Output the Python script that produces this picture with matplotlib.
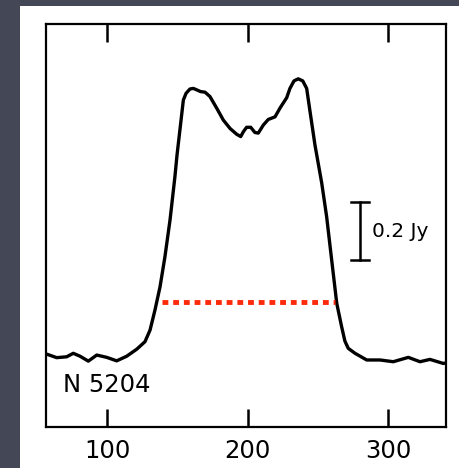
import matplotlib
matplotlib.use('Agg')
import matplotlib.pyplot as plt
import matplotlib.patches as patches

# profil HI galaktyki NGC 5204
velocity = [57, 64.0, 71.1, 75.8, 80.6, 86.5, 92.5, 99.6, 106.7, 113.8, 120.9,
            126.8, 130.4, 133.9, 137.5, 141.0, 144.6, 148.1, 149.6, 151.7, 154.1,
            156.0, 158.8, 161.2, 163.6, 166.4, 169.5, 173.0, 177.8, 182.5, 187.3,
            192.0, 194.9, 196.8, 199.1, 202.0, 205.0, 207.4, 211.0, 214.5, 219.3,
            222.8, 227.6, 229.9, 232.8, 235.8, 239.0, 241.8, 244.2, 247.7, 252.5,
            256.0, 259.6, 263.2, 266.7, 269.0, 271.4, 276.2, 284.5, 294.0, 303.4,
            314.1, 322.4, 329.5, 339.0, 341]
flux = [0.010, -0.002, 0.001, 0.013, 0.003, -0.014, 0.007, -0.001, -0.013, 0.003,
        0.027, 0.053, 0.093, 0.162, 0.242, 0.346, 0.472, 0.622, 0.697, 0.785, 0.886,
        0.909, 0.924, 0.926, 0.921, 0.915, 0.913, 0.898, 0.858, 0.817, 0.788,
        0.768, 0.760, 0.777, 0.792, 0.792, 0.774, 0.772, 0.800, 0.819, 0.828,
        0.858, 0.894, 0.926, 0.952, 0.959, 0.952, 0.926, 0.846, 0.731, 0.600,
        0.484, 0.334, 0.185, 0.104, 0.055, 0.030, 0.013, -0.010, -0.010, -0.016,
        -0.001, -0.016, -0.008, -0.022, -0.020]

width_level = 0.19          # poziom szerokości W20
width_range = [138.9, 262.0]
scale_bar = [0.334, 0.534]  # 0.2 Jy
x_ticks = [100, 200, 300]
galaxy = 'N 5204'

fig = plt.figure(figsize=(4.6, 4.68), dpi=100)
fig.patch.set_facecolor('#434756')
# białe tło slajdu
fig.patches.append(patches.Rectangle((20 / 460, 0), 1, 1 - 6 / 468,
                                     transform=fig.transFigure, facecolor='white',
                                     edgecolor='none', zorder=-10))

ax = fig.add_axes([46 / 460, 1 - 427 / 468, 400 / 460, 403 / 468])
ax.set_zorder(5)
ax.set_facecolor('white')
ax.set_xlim(56.4, 340.9)
ax.set_ylim(-0.241, 1.148)

ax.plot(velocity, flux, color='black', lw=2.4, solid_capstyle='round',
        solid_joinstyle='round')
ax.plot(width_range, [width_level, width_level], color='#ff2a0a', lw=3.5,
        linestyle=(0, (1.2, 1.0)))

# skala 0.2 Jy
ax.plot([280, 280], scale_bar, color='black', lw=1.8)
for yb in scale_bar:
    ax.plot([273.6, 286.4], [yb, yb], color='black', lw=1.8)
ax.text(288.3, sum(scale_bar) / 2, '0.2 Jy', fontsize=14.5, va='center', ha='left')

ax.text(68.5, -0.097, galaxy, fontsize=17.5, va='center', ha='left')

ax.set_xticks(x_ticks)
ax.set_xticklabels([str(t) for t in x_ticks], fontsize=17.5)
ax.set_yticks([])
ax.tick_params(axis='x', direction='in', length=13, width=1.8, top=True, pad=9)
for s in ax.spines.values():
    s.set_linewidth(1.6)

plt.savefig('out.png', dpi=100, facecolor=fig.get_facecolor())
